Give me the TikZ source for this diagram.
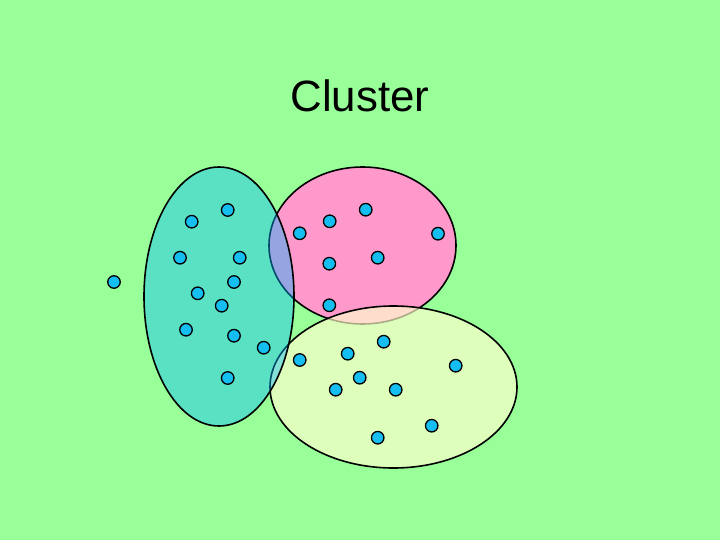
\documentclass[tikz,border=0pt]{standalone}
\usepackage{fontspec}
\setmainfont{Liberation Sans}
\definecolor{bggreen}{RGB}{153,255,153}
\definecolor{pinkfill}{RGB}{255,153,204}
\definecolor{yellowfill}{RGB}{255,255,204}
\definecolor{tealfill}{RGB}{0,182,255}
\definecolor{dotblue}{RGB}{20,190,240}
\begin{document}
\begin{tikzpicture}[x=1bp,y=-1bp,
  dot/.style={circle,draw=black,fill=dotblue,line width=1.3bp,minimum size=12.5bp,inner sep=0pt},
  blob/.style={draw=black,line width=1.6bp}]
\fill[bggreen] (0,0) rectangle (720,540);
\useasboundingbox (0,0) rectangle (720,540);
\node[font=\fontsize{44}{50}\selectfont] (title) at (360,96) {Cluster};
% clusters
\path[blob,fill=pinkfill] (362.5,245.5) ellipse [x radius=93.5bp, y radius=78.5bp];
\path[blob,fill=yellowfill,fill opacity=0.67] (393.5,387) ellipse [x radius=123.5bp, y radius=81bp];
\path[blob,fill=tealfill,fill opacity=0.41] (219,296.5) ellipse [x radius=75bp, y radius=129.5bp];
% outlier
\node[dot] (o1) at (114,282) {};
% teal cluster points
\node[dot] (t1) at (191.7,221.7) {};
\node[dot] (t2) at (227.7,210) {};
\node[dot] (t3) at (180,257.7) {};
\node[dot] (t4) at (239.7,257.7) {};
\node[dot] (t5) at (234,282) {};
\node[dot] (t6) at (197.7,293.3) {};
\node[dot] (t7) at (221.7,305.7) {};
\node[dot] (t8) at (186,329.7) {};
\node[dot] (t9) at (234,335.7) {};
\node[dot] (t10) at (263.7,347.7) {};
\node[dot] (t11) at (227.7,378) {};
% pink cluster points
\node[dot] (p1) at (299.7,233.3) {};
\node[dot] (p2) at (329.7,221.3) {};
\node[dot] (p3) at (365.7,209.7) {};
\node[dot] (p4) at (438,233.7) {};
\node[dot] (p5) at (329.3,263.7) {};
\node[dot] (p6) at (377.7,257.7) {};
\node[dot] (p7) at (329.3,305.3) {};
% yellow cluster points
\node[dot] (y1) at (299.7,360) {};
\node[dot] (y2) at (347.7,353.7) {};
\node[dot] (y3) at (383.7,341.7) {};
\node[dot] (y4) at (359.7,377.7) {};
\node[dot] (y5) at (335.7,389.7) {};
\node[dot] (y6) at (395.7,389.7) {};
\node[dot] (y7) at (455.7,365.7) {};
\node[dot] (y8) at (431.7,425.7) {};
\node[dot] (y9) at (377.7,437.7) {};
\end{tikzpicture}
\end{document}
